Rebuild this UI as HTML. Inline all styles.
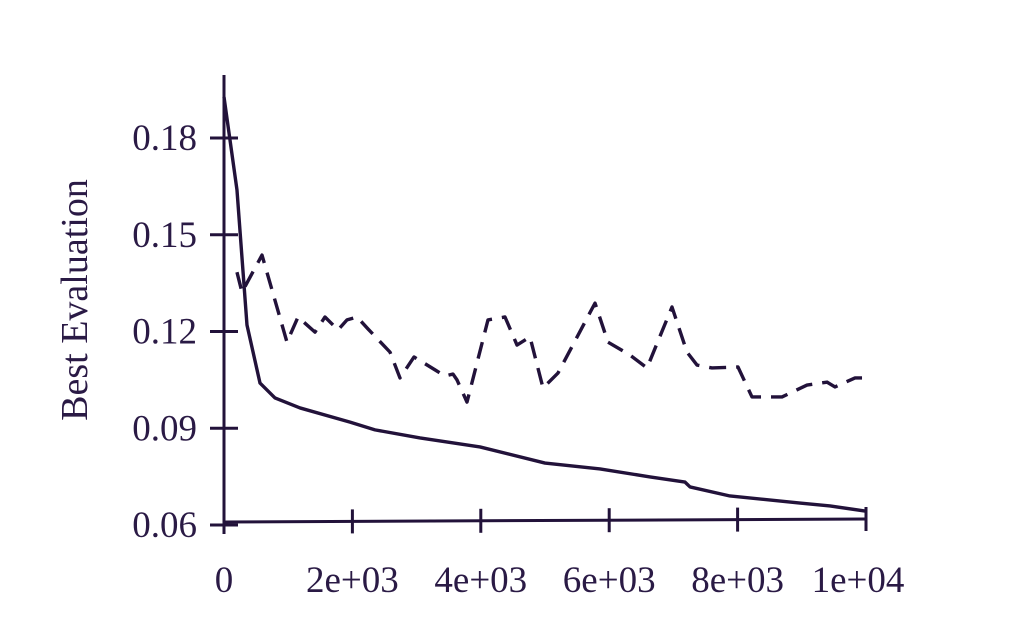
<!DOCTYPE html>
<html><head><meta charset="utf-8"><style>
html,body{margin:0;padding:0;background:#fff;}
svg{display:block;}
text{font-family:"Liberation Serif",serif;fill:#2a1a45;}
</style></head><body>
<svg id="chart" width="1029" height="635" xmlns="http://www.w3.org/2000/svg"></svg>
<script>
const xTicks=[0,2000,4000,6000,8000,10000];
const xTickLabels=["0","2e+03","4e+03","6e+03","8e+03","1e+04"];
const yTicks=[0.06,0.09,0.12,0.15,0.18];
const yTickLabels=["0.06","0.09","0.12","0.15","0.18"];
const solidX=[0,202,358,561,794,1184,1963,2352,3053,3987,5000,5857,6636,7181,7259,7881,8972,9439,10000];
const solidY=[0.1927,0.1639,0.122,0.104,0.0994,0.0963,0.0919,0.0895,0.087,0.0842,0.0792,0.0774,0.0749,0.0733,0.0718,0.069,0.0668,0.0659,0.0643];
const dashX=[202,280,592,981,1153,1417,1573,1776,1916,2072,2243,2586,2741,2960,3287,3442,3567,3629,3785,4112,4377,4564,4766,4969,5202,5779,5981,6324,6589,6978,7212,7368,7601,8006,8224,8692,9081,9393,9517,9829,9938];
const dashY=[0.1384,0.1322,0.1437,0.1167,0.1245,0.1198,0.1245,0.1205,0.1236,0.1245,0.1208,0.1136,0.1056,0.1121,0.1081,0.1062,0.1068,0.105,0.0981,0.1236,0.1245,0.1158,0.1183,0.1025,0.1071,0.1288,0.1167,0.1127,0.1087,0.1276,0.1136,0.1096,0.1087,0.109,0.0997,0.0997,0.1034,0.1043,0.1028,0.1056,0.1056];
const svg=document.getElementById('chart');
const NS='http://www.w3.org/2000/svg';
const X0=224,X1=866,Y0=525,Y1=138;
const sx=v=>X0+(v-0)/10000*(X1-X0);
const sy=v=>Y0-(v-0.06)/0.12*(Y0-Y1);
const C='#22123a';
function mk(tag,attrs){const e=document.createElementNS(NS,tag);for(const k in attrs)e.setAttribute(k,attrs[k]);svg.appendChild(e);return e;}
let e;
e=mk('line',{x1:X0,y1:75,x2:X0,y2:Y0+3,stroke:C,'stroke-width':3});


e=mk('line',{x1:X0,y1:522,x2:X1,y2:519,stroke:C,'stroke-width':3});


yTicks.forEach((t,i)=>{
 const y=sy(t);
 e=mk('line',{x1:X0-14,y1:y,x2:X0+14,y2:y,stroke:C,'stroke-width':3});
 
 
 e=mk('text',{x:197,y:y+12,'text-anchor':'end','font-size':37});
 e.textContent=yTickLabels[i];
 
 
});
xTicks.forEach((t,i)=>{
 const x=sx(t);
 const yb=522-(t/10000)*3;
 e=mk('line',{x1:x,y1:yb-12,x2:x,y2:yb+12,stroke:C,'stroke-width':3});
 
 
 e=mk('text',{x:i==5?x-8:x,y:592,'text-anchor':'middle','font-size':37});
 e.textContent=xTickLabels[i];
 
 
});
e=mk('text',{x:0,y:0,'text-anchor':'middle','font-size':38,transform:'translate(87,300) rotate(-90)'});
e.textContent='Best Evaluation';


e=mk('polyline',{points:solidX.map((v,i)=>sx(v)+','+sy(solidY[i])).join(' '),fill:'none',stroke:C,'stroke-width':3.4,'stroke-linejoin':'round'});


e=mk('polyline',{points:dashX.map((v,i)=>sx(v)+','+sy(dashY[i])).join(' '),fill:'none',stroke:C,'stroke-width':3.4,'stroke-dasharray':'17,10','stroke-linejoin':'round'});


</script>
</body></html>
